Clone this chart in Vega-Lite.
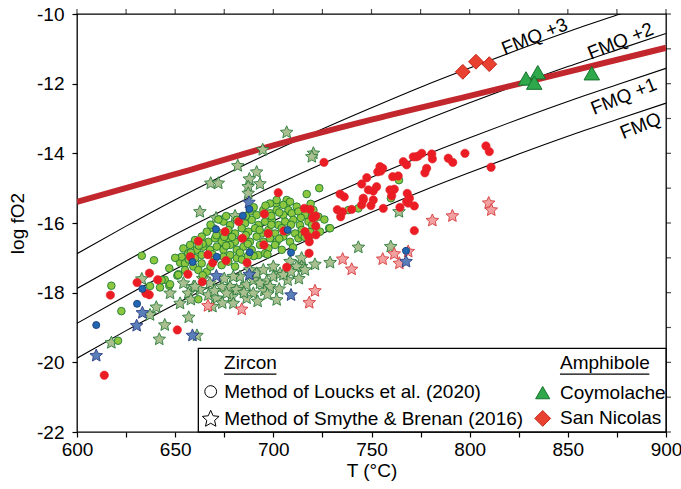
{
"$schema": "https://vega.github.io/schema/vega-lite/v6.json",
"width": 589, "height": 418,
"autosize": {"type": "none"},
"padding": {"left": 77, "top": 14, "right": 15, "bottom": 57},
"background": "white",
"config": {
 "view": {"stroke": "black", "strokeWidth": 1.3},
 "font": "Liberation Sans",
 "axis": {"domain": false, "grid": false, "ticks": true, "tickColor": "black", "tickSize": 5, "tickWidth": 1.2, "labelFont": "Liberation Sans", "labelFontSize": 19, "labelColor": "black", "titleFont": "Liberation Sans", "titleFontSize": 19, "titleFontWeight": "normal", "titleColor": "black"}
},
"datasets": {
 "fmq": [
  {"T":600,"fO2":-19.88,"b":"FMQ"},{"T":625,"fO2":-19.09,"b":"FMQ"},{"T":650,"fO2":-18.33,"b":"FMQ"},{"T":675,"fO2":-17.62,"b":"FMQ"},{"T":700,"fO2":-16.94,"b":"FMQ"},{"T":725,"fO2":-16.30,"b":"FMQ"},{"T":750,"fO2":-15.69,"b":"FMQ"},{"T":775,"fO2":-15.10,"b":"FMQ"},{"T":800,"fO2":-14.55,"b":"FMQ"},{"T":825,"fO2":-14.02,"b":"FMQ"},{"T":850,"fO2":-13.51,"b":"FMQ"},{"T":875,"fO2":-13.03,"b":"FMQ"},{"T":900,"fO2":-12.56,"b":"FMQ"},
  {"T":600,"fO2":-18.88,"b":"FMQ +1"},{"T":625,"fO2":-18.09,"b":"FMQ +1"},{"T":650,"fO2":-17.33,"b":"FMQ +1"},{"T":675,"fO2":-16.62,"b":"FMQ +1"},{"T":700,"fO2":-15.94,"b":"FMQ +1"},{"T":725,"fO2":-15.30,"b":"FMQ +1"},{"T":750,"fO2":-14.69,"b":"FMQ +1"},{"T":775,"fO2":-14.10,"b":"FMQ +1"},{"T":800,"fO2":-13.55,"b":"FMQ +1"},{"T":825,"fO2":-13.02,"b":"FMQ +1"},{"T":850,"fO2":-12.51,"b":"FMQ +1"},{"T":875,"fO2":-12.03,"b":"FMQ +1"},{"T":900,"fO2":-11.56,"b":"FMQ +1"},
  {"T":600,"fO2":-17.88,"b":"FMQ +2"},{"T":625,"fO2":-17.09,"b":"FMQ +2"},{"T":650,"fO2":-16.33,"b":"FMQ +2"},{"T":675,"fO2":-15.62,"b":"FMQ +2"},{"T":700,"fO2":-14.94,"b":"FMQ +2"},{"T":725,"fO2":-14.30,"b":"FMQ +2"},{"T":750,"fO2":-13.69,"b":"FMQ +2"},{"T":775,"fO2":-13.10,"b":"FMQ +2"},{"T":800,"fO2":-12.55,"b":"FMQ +2"},{"T":825,"fO2":-12.02,"b":"FMQ +2"},{"T":850,"fO2":-11.51,"b":"FMQ +2"},{"T":875,"fO2":-11.03,"b":"FMQ +2"},{"T":900,"fO2":-10.56,"b":"FMQ +2"},
  {"T":600,"fO2":-16.88,"b":"FMQ +3"},{"T":625,"fO2":-16.09,"b":"FMQ +3"},{"T":650,"fO2":-15.33,"b":"FMQ +3"},{"T":675,"fO2":-14.62,"b":"FMQ +3"},{"T":700,"fO2":-13.94,"b":"FMQ +3"},{"T":725,"fO2":-13.30,"b":"FMQ +3"},{"T":750,"fO2":-12.69,"b":"FMQ +3"},{"T":775,"fO2":-12.10,"b":"FMQ +3"},{"T":800,"fO2":-11.55,"b":"FMQ +3"},{"T":825,"fO2":-11.02,"b":"FMQ +3"},{"T":850,"fO2":-10.51,"b":"FMQ +3"},{"T":875,"fO2":-10.03,"b":"FMQ +3"},{"T":900,"fO2":-9.56,"b":"FMQ +3"}
 ],
 "trend": [
  {"T":600,"fO2":-15.39},{"T":650,"fO2":-14.60},{"T":700,"fO2":-13.77},{"T":750,"fO2":-13.03},{"T":800,"fO2":-12.35},{"T":850,"fO2":-11.66},{"T":900,"fO2":-10.97}
 ],
 "xticks": [{"v":600},{"v":625},{"v":650},{"v":675},{"v":700},{"v":725},{"v":750},{"v":775},{"v":800},{"v":825},{"v":850},{"v":875},{"v":900}],
 "yticks": [{"v":-22},{"v":-21},{"v":-20},{"v":-19},{"v":-18},{"v":-17},{"v":-16},{"v":-15},{"v":-14},{"v":-13},{"v":-12},{"v":-11},{"v":-10}],
 "pts": [
  {"T":706.8,"fO2":-13.40,"s":"Sg"},{"T":694.6,"fO2":-13.90,"s":"Sg"},{"T":720.4,"fO2":-14.00,"s":"Sg"},{"T":719.6,"fO2":-14.10,"s":"Sg"},{"T":681.9,"fO2":-14.36,"s":"Sg"},{"T":668.1,"fO2":-14.86,"s":"Sg"},{"T":672.0,"fO2":-14.86,"s":"Sg"},{"T":691.5,"fO2":-14.54,"s":"Sg"},{"T":687.8,"fO2":-14.74,"s":"Sg"},{"T":693.2,"fO2":-14.88,"s":"Sg"},{"T":687.2,"fO2":-14.96,"s":"Sg"},{"T":687.2,"fO2":-15.15,"s":"Sg"},{"T":662.6,"fO2":-15.68,"s":"Sg"},{"T":670.8,"fO2":-15.86,"s":"Sg"},{"T":680.5,"fO2":-15.80,"s":"Sg"},{"T":764.0,"fO2":-15.68,"s":"Sg"},{"T":743.3,"fO2":-16.70,"s":"Sg"},{"T":759.8,"fO2":-16.68,"s":"Sg"},{"T":728.9,"fO2":-17.14,"s":"Sg"},{"T":721.2,"fO2":-17.19,"s":"Sg"},{"T":714.4,"fO2":-17.01,"s":"Sg"},{"T":714.4,"fO2":-17.25,"s":"Sg"},{"T":640.4,"fO2":-18.42,"s":"Sg"},{"T":637.2,"fO2":-18.64,"s":"Sg"},{"T":644.7,"fO2":-18.93,"s":"Sg"},{"T":641.9,"fO2":-19.34,"s":"Sg"},{"T":617.5,"fO2":-19.44,"s":"Sg"},{"T":633.0,"fO2":-17.61,"s":"Sg"},{"T":656.9,"fO2":-18.71,"s":"Sg"},{"T":661.1,"fO2":-19.23,"s":"Sg"},{"T":695.4,"fO2":-17.94,"s":"Sg"},{"T":701.7,"fO2":-18.21,"s":"Sg"},{"T":707.3,"fO2":-17.64,"s":"Sg"},{"T":678.8,"fO2":-18.12,"s":"Sg"},{"T":683.9,"fO2":-17.87,"s":"Sg"},{"T":677.9,"fO2":-17.83,"s":"Sg"},{"T":686.4,"fO2":-17.78,"s":"Sg"},{"T":689.8,"fO2":-17.64,"s":"Sg"},{"T":696.6,"fO2":-17.68,"s":"Sg"},{"T":700.0,"fO2":-17.54,"s":"Sg"},{"T":703.4,"fO2":-17.45,"s":"Sg"},{"T":666.9,"fO2":-18.07,"s":"Sg"},{"T":671.1,"fO2":-18.16,"s":"Sg"},{"T":662.6,"fO2":-17.92,"s":"Sg"},{"T":659.3,"fO2":-17.83,"s":"Sg"},{"T":656.7,"fO2":-18.02,"s":"Sg"},{"T":673.7,"fO2":-17.83,"s":"Sg"},{"T":683.0,"fO2":-17.54,"s":"Sg"},{"T":691.5,"fO2":-17.45,"s":"Sg"},{"T":694.9,"fO2":-17.35,"s":"Sg"},{"T":700.0,"fO2":-17.25,"s":"Sg"},{"T":705.1,"fO2":-17.49,"s":"Sg"},{"T":708.5,"fO2":-17.11,"s":"Sg"},{"T":679.6,"fO2":-17.54,"s":"Sg"},{"T":676.2,"fO2":-18.02,"s":"Sg"},{"T":681.3,"fO2":-17.92,"s":"Sg"},{"T":693.2,"fO2":-17.73,"s":"Sg"},{"T":698.3,"fO2":-17.83,"s":"Sg"},{"T":689.8,"fO2":-18.02,"s":"Sg"},{"T":711.9,"fO2":-17.25,"s":"Sg"},{"T":716.1,"fO2":-17.35,"s":"Sg"},{"T":667.7,"fO2":-17.73,"s":"Sg"},{"T":679.6,"fO2":-18.31,"s":"Sg"},{"T":686.4,"fO2":-18.16,"s":"Sg"},{"T":654.2,"fO2":-17.73,"s":"Sg"},{"T":647.4,"fO2":-18.02,"s":"Sg"},{"T":652.5,"fO2":-18.31,"s":"Sg"},{"T":660.1,"fO2":-17.83,"s":"Sg"},
  {"T":664.0,"fO2":-17.60,"s":"Sg"},{"T":670.0,"fO2":-17.95,"s":"Sg"},{"T":674.0,"fO2":-18.30,"s":"Sg"},{"T":685.0,"fO2":-18.00,"s":"Sg"},{"T":692.0,"fO2":-18.25,"s":"Sg"},{"T":697.0,"fO2":-18.05,"s":"Sg"},{"T":703.0,"fO2":-17.90,"s":"Sg"},{"T":709.0,"fO2":-17.40,"s":"Sg"},{"T":713.0,"fO2":-17.60,"s":"Sg"},{"T":688.0,"fO2":-17.35,"s":"Sg"},{"T":675.0,"fO2":-17.60,"s":"Sg"},{"T":669.0,"fO2":-18.40,"s":"Sg"},{"T":658.0,"fO2":-18.20,"s":"Sg"},
  {"T":666.7,"fO2":-18.38,"s":"Sr"},{"T":683.9,"fO2":-18.48,"s":"Sr"},{"T":718.3,"fO2":-18.29,"s":"Sr"},{"T":721.2,"fO2":-17.95,"s":"Sr"},{"T":735.3,"fO2":-17.04,"s":"Sr"},{"T":739.9,"fO2":-17.33,"s":"Sr"},{"T":755.7,"fO2":-17.04,"s":"Sr"},{"T":761.6,"fO2":-16.89,"s":"Sr"},{"T":764.2,"fO2":-17.16,"s":"Sr"},{"T":768.7,"fO2":-16.82,"s":"Sr"},{"T":781.0,"fO2":-15.93,"s":"Sr"},{"T":791.2,"fO2":-15.80,"s":"Sr"},{"T":809.7,"fO2":-15.43,"s":"Sr"},{"T":811.0,"fO2":-15.63,"s":"Sr"},
  {"T":633.3,"fO2":-18.58,"s":"Sb"},{"T":630.4,"fO2":-18.95,"s":"Sb"},{"T":609.8,"fO2":-19.81,"s":"Sb"},{"T":658.8,"fO2":-19.23,"s":"Sb"},{"T":671.0,"fO2":-17.52,"s":"Sb"},{"T":687.8,"fO2":-17.48,"s":"Sb"},{"T":709.0,"fO2":-18.07,"s":"Sb"},{"T":687.6,"fO2":-15.41,"s":"Sb"},{"T":767.6,"fO2":-17.11,"s":"Sb"},
  {"T":633.0,"fO2":-16.94,"s":"Lg"},{"T":639.2,"fO2":-17.07,"s":"Lg"},{"T":652.5,"fO2":-17.14,"s":"Lg"},{"T":644.7,"fO2":-17.63,"s":"Lg"},{"T":651.1,"fO2":-17.51,"s":"Lg"},{"T":637.2,"fO2":-17.81,"s":"Lg"},{"T":642.3,"fO2":-17.85,"s":"Lg"},{"T":647.0,"fO2":-17.80,"s":"Lg"},{"T":617.5,"fO2":-17.80,"s":"Lg"},{"T":622.6,"fO2":-18.53,"s":"Lg"},{"T":620.9,"fO2":-19.38,"s":"Lg"},{"T":651.6,"fO2":-17.47,"s":"Lg"},{"T":661.8,"fO2":-18.19,"s":"Lg"},{"T":723.4,"fO2":-15.00,"s":"Lg"},{"T":717.0,"fO2":-15.17,"s":"Lg"},{"T":701.4,"fO2":-15.43,"s":"Lg"},{"T":706.8,"fO2":-15.34,"s":"Lg"},{"T":706.5,"fO2":-15.48,"s":"Lg"},{"T":728.4,"fO2":-16.15,"s":"Lg"},{"T":764.0,"fO2":-14.77,"s":"Lg"},{"T":759.9,"fO2":-15.29,"s":"Lg"},{"T":743.3,"fO2":-15.58,"s":"Lg"},{"T":738.2,"fO2":-15.63,"s":"Lg"},
  {"T":698.3,"fO2":-15.44,"s":"Lg"},{"T":701.7,"fO2":-15.34,"s":"Lg"},{"T":705.1,"fO2":-15.48,"s":"Lg"},{"T":708.5,"fO2":-15.39,"s":"Lg"},{"T":711.9,"fO2":-15.53,"s":"Lg"},{"T":707.7,"fO2":-15.63,"s":"Lg"},
  {"T":688.1,"fO2":-15.67,"s":"Lg"},{"T":691.5,"fO2":-15.77,"s":"Lg"},{"T":694.9,"fO2":-15.63,"s":"Lg"},{"T":698.3,"fO2":-15.72,"s":"Lg"},{"T":701.7,"fO2":-15.63,"s":"Lg"},{"T":705.1,"fO2":-15.77,"s":"Lg"},{"T":709.4,"fO2":-15.72,"s":"Lg"},{"T":712.8,"fO2":-15.67,"s":"Lg"},{"T":717.0,"fO2":-15.72,"s":"Lg"},{"T":720.4,"fO2":-15.63,"s":"Lg"},{"T":723.0,"fO2":-15.82,"s":"Lg"},
  {"T":674.6,"fO2":-15.96,"s":"Lg"},{"T":678.0,"fO2":-16.06,"s":"Lg"},{"T":681.4,"fO2":-15.91,"s":"Lg"},{"T":685.6,"fO2":-16.01,"s":"Lg"},{"T":689.0,"fO2":-15.91,"s":"Lg"},{"T":692.4,"fO2":-16.06,"s":"Lg"},{"T":695.8,"fO2":-15.96,"s":"Lg"},{"T":699.2,"fO2":-15.91,"s":"Lg"},{"T":702.6,"fO2":-16.06,"s":"Lg"},{"T":706.0,"fO2":-15.96,"s":"Lg"},{"T":710.2,"fO2":-15.91,"s":"Lg"},{"T":713.6,"fO2":-16.06,"s":"Lg"},{"T":717.9,"fO2":-15.96,"s":"Lg"},{"T":721.3,"fO2":-16.06,"s":"Lg"},
  {"T":666.1,"fO2":-16.25,"s":"Lg"},{"T":669.5,"fO2":-16.15,"s":"Lg"},{"T":672.9,"fO2":-16.30,"s":"Lg"},{"T":677.1,"fO2":-16.20,"s":"Lg"},{"T":680.5,"fO2":-16.30,"s":"Lg"},{"T":683.9,"fO2":-16.15,"s":"Lg"},{"T":687.3,"fO2":-16.25,"s":"Lg"},{"T":690.7,"fO2":-16.15,"s":"Lg"},{"T":694.1,"fO2":-16.30,"s":"Lg"},{"T":697.5,"fO2":-16.20,"s":"Lg"},{"T":700.9,"fO2":-16.30,"s":"Lg"},{"T":704.3,"fO2":-16.15,"s":"Lg"},{"T":711.1,"fO2":-16.30,"s":"Lg"},{"T":714.5,"fO2":-16.20,"s":"Lg"},{"T":718.7,"fO2":-16.25,"s":"Lg"},{"T":728.9,"fO2":-16.15,"s":"Lg"},
  {"T":660.1,"fO2":-16.49,"s":"Lg"},{"T":663.5,"fO2":-16.39,"s":"Lg"},{"T":666.9,"fO2":-16.54,"s":"Lg"},{"T":670.3,"fO2":-16.44,"s":"Lg"},{"T":673.7,"fO2":-16.54,"s":"Lg"},{"T":677.1,"fO2":-16.44,"s":"Lg"},{"T":680.5,"fO2":-16.54,"s":"Lg"},{"T":684.8,"fO2":-16.44,"s":"Lg"},{"T":688.1,"fO2":-16.54,"s":"Lg"},{"T":691.5,"fO2":-16.39,"s":"Lg"},{"T":694.9,"fO2":-16.54,"s":"Lg"},{"T":698.3,"fO2":-16.44,"s":"Lg"},{"T":701.7,"fO2":-16.54,"s":"Lg"},{"T":705.1,"fO2":-16.39,"s":"Lg"},{"T":708.5,"fO2":-16.54,"s":"Lg"},{"T":712.8,"fO2":-16.44,"s":"Lg"},
  {"T":654.2,"fO2":-16.73,"s":"Lg"},{"T":657.6,"fO2":-16.63,"s":"Lg"},{"T":661.0,"fO2":-16.77,"s":"Lg"},{"T":664.4,"fO2":-16.68,"s":"Lg"},{"T":667.8,"fO2":-16.77,"s":"Lg"},{"T":671.2,"fO2":-16.68,"s":"Lg"},{"T":674.6,"fO2":-16.77,"s":"Lg"},{"T":678.0,"fO2":-16.63,"s":"Lg"},{"T":681.4,"fO2":-16.77,"s":"Lg"},{"T":684.8,"fO2":-16.68,"s":"Lg"},{"T":689.0,"fO2":-16.77,"s":"Lg"},{"T":693.2,"fO2":-16.63,"s":"Lg"},{"T":697.5,"fO2":-16.73,"s":"Lg"},{"T":700.9,"fO2":-16.63,"s":"Lg"},{"T":704.3,"fO2":-16.77,"s":"Lg"},
  {"T":653.3,"fO2":-16.97,"s":"Lg"},{"T":656.7,"fO2":-16.87,"s":"Lg"},{"T":660.1,"fO2":-17.01,"s":"Lg"},{"T":663.5,"fO2":-16.92,"s":"Lg"},{"T":674.6,"fO2":-16.97,"s":"Lg"},{"T":678.0,"fO2":-16.92,"s":"Lg"},{"T":681.4,"fO2":-17.01,"s":"Lg"},{"T":692.4,"fO2":-16.92,"s":"Lg"},{"T":695.8,"fO2":-16.87,"s":"Lg"},
  {"T":655.0,"fO2":-17.16,"s":"Lg"},{"T":659.3,"fO2":-17.25,"s":"Lg"},{"T":663.5,"fO2":-17.16,"s":"Lg"},{"T":673.7,"fO2":-17.21,"s":"Lg"},{"T":677.1,"fO2":-17.11,"s":"Lg"},{"T":680.5,"fO2":-17.25,"s":"Lg"},
  {"T":651.6,"fO2":-17.49,"s":"Lg"},{"T":661.8,"fO2":-17.35,"s":"Lg"},{"T":666.1,"fO2":-17.40,"s":"Lg"},{"T":647.4,"fO2":-17.76,"s":"Lg"},{"T":643.1,"fO2":-17.64,"s":"Lg"},
  {"T":716.1,"fO2":-15.77,"s":"Lg"},{"T":719.7,"fO2":-16.06,"s":"Lg"},{"T":714.6,"fO2":-16.34,"s":"Lg"},{"T":723.8,"fO2":-16.25,"s":"Lg"},
  {"T":668.0,"fO2":-16.05,"s":"Lg"},{"T":672.0,"fO2":-15.90,"s":"Lg"},{"T":676.0,"fO2":-15.80,"s":"Lg"},{"T":686.0,"fO2":-15.80,"s":"Lg"},{"T":690.0,"fO2":-15.55,"s":"Lg"},{"T":696.0,"fO2":-15.50,"s":"Lg"},{"T":703.0,"fO2":-15.70,"s":"Lg"},{"T":714.0,"fO2":-15.85,"s":"Lg"},{"T":719.0,"fO2":-15.45,"s":"Lg"},{"T":726.0,"fO2":-15.90,"s":"Lg"},{"T":664.0,"fO2":-16.60,"s":"Lg"},{"T":671.0,"fO2":-16.35,"s":"Lg"},{"T":675.0,"fO2":-16.40,"s":"Lg"},{"T":679.0,"fO2":-16.40,"s":"Lg"},{"T":686.0,"fO2":-16.35,"s":"Lg"},{"T":693.0,"fO2":-16.20,"s":"Lg"},{"T":699.0,"fO2":-16.05,"s":"Lg"},{"T":707.0,"fO2":-16.25,"s":"Lg"},{"T":709.0,"fO2":-16.05,"s":"Lg"},{"T":716.0,"fO2":-16.40,"s":"Lg"},{"T":658.0,"fO2":-16.85,"s":"Lg"},{"T":662.0,"fO2":-16.65,"s":"Lg"},{"T":669.0,"fO2":-16.90,"s":"Lg"},{"T":676.0,"fO2":-16.65,"s":"Lg"},{"T":683.0,"fO2":-16.85,"s":"Lg"},{"T":687.0,"fO2":-16.60,"s":"Lg"},{"T":690.0,"fO2":-16.95,"s":"Lg"},{"T":697.0,"fO2":-16.90,"s":"Lg"},{"T":703.0,"fO2":-16.45,"s":"Lg"},{"T":710.0,"fO2":-16.70,"s":"Lg"},{"T":650.0,"fO2":-17.00,"s":"Lg"},{"T":657.0,"fO2":-17.05,"s":"Lg"},{"T":668.0,"fO2":-17.25,"s":"Lg"},{"T":670.0,"fO2":-17.05,"s":"Lg"},{"T":684.0,"fO2":-17.05,"s":"Lg"},{"T":687.0,"fO2":-16.95,"s":"Lg"},{"T":664.0,"fO2":-17.50,"s":"Lg"},{"T":647.0,"fO2":-17.30,"s":"Lg"},{"T":655.0,"fO2":-17.35,"s":"Lg"},{"T":699.0,"fO2":-15.80,"s":"Lg"},
  {"T":636.9,"fO2":-17.44,"s":"Lr"},{"T":630.6,"fO2":-17.71,"s":"Lr"},{"T":641.1,"fO2":-17.63,"s":"Lr"},{"T":635.1,"fO2":-18.02,"s":"Lr"},{"T":636.8,"fO2":-18.06,"s":"Lr"},{"T":617.0,"fO2":-18.07,"s":"Lr"},{"T":651.1,"fO2":-19.07,"s":"Lr"},{"T":613.9,"fO2":-20.37,"s":"Lr"},
  {"T":666.7,"fO2":-16.91,"s":"Lr"},{"T":657.7,"fO2":-16.97,"s":"Lr"},{"T":669.1,"fO2":-17.14,"s":"Lr"},{"T":675.9,"fO2":-17.08,"s":"Lr"},{"T":686.6,"fO2":-17.14,"s":"Lr"},{"T":695.2,"fO2":-16.63,"s":"Lr"},{"T":661.8,"fO2":-16.52,"s":"Lr"},{"T":718.3,"fO2":-16.54,"s":"Lr"},{"T":718.2,"fO2":-16.87,"s":"Lr"},{"T":706.8,"fO2":-17.27,"s":"Lr"},{"T":656.5,"fO2":-17.47,"s":"Lr"},{"T":663.8,"fO2":-17.69,"s":"Lr"},
  {"T":702.5,"fO2":-15.13,"s":"Lr"},{"T":715.8,"fO2":-15.58,"s":"Lr"},{"T":718.7,"fO2":-15.61,"s":"Lr"},{"T":720.4,"fO2":-15.82,"s":"Lr"},{"T":721.6,"fO2":-16.09,"s":"Lr"},{"T":716.1,"fO2":-16.25,"s":"Lr"},{"T":717.8,"fO2":-16.39,"s":"Lr"},{"T":675.4,"fO2":-16.25,"s":"Lr"},{"T":682.4,"fO2":-15.96,"s":"Lr"},{"T":695.4,"fO2":-15.74,"s":"Lr"},{"T":684.2,"fO2":-16.44,"s":"Lr"},{"T":697.4,"fO2":-16.30,"s":"Lr"},{"T":705.4,"fO2":-16.23,"s":"Lr"},{"T":732.6,"fO2":-15.62,"s":"Lr"},
  {"T":725.8,"fO2":-14.26,"s":"Lr"},{"T":754.3,"fO2":-14.38,"s":"Lr"},{"T":754.7,"fO2":-14.51,"s":"Lr"},{"T":753.2,"fO2":-14.53,"s":"Lr"},{"T":766.2,"fO2":-14.24,"s":"Lr"},{"T":767.9,"fO2":-14.33,"s":"Lr"},{"T":771.3,"fO2":-14.10,"s":"Lr"},{"T":773.8,"fO2":-14.08,"s":"Lr"},{"T":775.6,"fO2":-14.00,"s":"Lr"},{"T":780.7,"fO2":-14.02,"s":"Lr"},{"T":781.0,"fO2":-14.16,"s":"Lr"},{"T":789.1,"fO2":-14.14,"s":"Lr"},{"T":791.4,"fO2":-14.26,"s":"Lr"},{"T":797.6,"fO2":-14.00,"s":"Lr"},{"T":808.3,"fO2":-13.79,"s":"Lr"},{"T":810.0,"fO2":-13.95,"s":"Lr"},{"T":810.9,"fO2":-14.40,"s":"Lr"},{"T":778.1,"fO2":-14.43,"s":"Lr"},{"T":777.2,"fO2":-14.56,"s":"Lr"},{"T":760.8,"fO2":-14.67,"s":"Lr"},{"T":763.6,"fO2":-14.65,"s":"Lr"},{"T":747.6,"fO2":-14.70,"s":"Lr"},{"T":745.0,"fO2":-14.88,"s":"Lr"},{"T":752.6,"fO2":-14.96,"s":"Lr"},{"T":748.4,"fO2":-15.05,"s":"Lr"},{"T":750.9,"fO2":-15.08,"s":"Lr"},{"T":759.4,"fO2":-15.05,"s":"Lr"},{"T":761.6,"fO2":-15.03,"s":"Lr"},{"T":734.0,"fO2":-15.17,"s":"Lr"},{"T":736.1,"fO2":-15.25,"s":"Lr"},{"T":768.2,"fO2":-15.15,"s":"Lr"},{"T":769.3,"fO2":-15.29,"s":"Lr"},{"T":745.8,"fO2":-15.29,"s":"Lr"},{"T":745.0,"fO2":-15.48,"s":"Lr"},{"T":750.9,"fO2":-15.34,"s":"Lr"},{"T":749.7,"fO2":-15.50,"s":"Lr"},{"T":760.3,"fO2":-15.22,"s":"Lr"},{"T":768.7,"fO2":-15.43,"s":"Lr"},{"T":771.8,"fO2":-15.51,"s":"Lr"},{"T":756.0,"fO2":-15.58,"s":"Lr"},{"T":764.5,"fO2":-15.55,"s":"Lr"},{"T":735.3,"fO2":-15.68,"s":"Lr"},{"T":739.9,"fO2":-15.61,"s":"Lr"},{"T":734.3,"fO2":-15.82,"s":"Lr"},{"T":771.8,"fO2":-16.22,"s":"Lr"},{"T":721.6,"fO2":-15.80,"s":"Lr"},{"T":720.1,"fO2":-15.86,"s":"Lr"},{"T":721.7,"fO2":-16.34,"s":"Lr"},{"T":772.7,"fO2":-14.10,"s":"Lr"},{"T":755.7,"fO2":-14.43,"s":"Lr"},{"T":767.9,"fO2":-15.39,"s":"Lr"},{"T":745.8,"fO2":-15.34,"s":"Lr"},
  {"T":633.3,"fO2":-17.89,"s":"Lb"},{"T":630.6,"fO2":-18.32,"s":"Lb"},{"T":609.8,"fO2":-18.93,"s":"Lb"},{"T":658.9,"fO2":-17.12,"s":"Lb"},{"T":671.2,"fO2":-16.97,"s":"Lb"},{"T":688.0,"fO2":-16.84,"s":"Lb"},{"T":709.0,"fO2":-16.85,"s":"Lb"},{"T":687.8,"fO2":-15.60,"s":"Lb"},{"T":684.5,"fO2":-15.79,"s":"Lb"},{"T":670.8,"fO2":-16.18,"s":"Lb"},{"T":707.3,"fO2":-16.20,"s":"Lb"},{"T":767.6,"fO2":-16.80,"s":"Lb"},
  {"T":828.7,"fO2":-11.85,"s":"Coymolache"},{"T":834.7,"fO2":-11.67,"s":"Coymolache"},{"T":832.9,"fO2":-11.97,"s":"Coymolache"},{"T":862.2,"fO2":-11.70,"s":"Coymolache"},
  {"T":796.5,"fO2":-11.66,"s":"San Nicolas"},{"T":803.2,"fO2":-11.37,"s":"San Nicolas"},{"T":810.0,"fO2":-11.44,"s":"San Nicolas"}
 ]
},
"layer": [
 {"data": {"name": "fmq"},
  "mark": {"type": "line", "color": "black", "strokeWidth": 1.1, "clip": true, "interpolate": "monotone"},
  "encoding": {
   "x": {"field": "T", "type": "quantitative", "scale": {"domain": [600, 900], "nice": false, "zero": false},
         "axis": {"orient": "bottom", "values": [600,625,650,675,700,725,750,775,800,825,850,875,900], "labelExpr": "datum.value % 50 === 0 ? datum.label : ''", "labelPadding": 3, "title": "T (°C)", "titlePadding": 2, "labelFlush": false}},
   "y": {"field": "fO2", "type": "quantitative", "scale": {"domain": [-22, -10], "nice": false, "zero": false},
         "axis": {"orient": "left", "values": [-22,-21,-20,-19,-18,-17,-16,-15,-14,-13,-12,-11,-10], "labelExpr": "datum.value % 2 === 0 ? '-' + (-datum.value) : ''", "labelPadding": 8, "title": "log fO2", "titlePadding": 9, "labelFlush": false}},
   "detail": {"field": "b", "type": "nominal"}
  }},
 {"data": {"name": "xticks"},
  "mark": {"type": "tick", "orient": "vertical", "color": "black", "size": 5, "thickness": 1.2, "yOffset": -2.5, "clip": false},
  "encoding": {"x": {"field": "v", "type": "quantitative"}, "y": {"datum": -10, "type": "quantitative"}}},
 {"data": {"name": "yticks"},
  "mark": {"type": "tick", "orient": "horizontal", "color": "black", "size": 5, "thickness": 1.2, "xOffset": 2.5, "clip": false},
  "encoding": {"y": {"field": "v", "type": "quantitative"}, "x": {"datum": 900, "type": "quantitative"}}},
 {"data": {"name": "trend"},
  "mark": {"type": "line", "color": "#c1272d", "strokeWidth": 6, "clip": true, "interpolate": "monotone"},
  "encoding": {"x": {"field": "T", "type": "quantitative"}, "y": {"field": "fO2", "type": "quantitative"}}},
 {"data": {"name": "pts"}, "transform": [{"filter": "datum.s === 'Sg'"}],
  "mark": {"type": "point", "shape": "M0,-1L0.276,-0.38L0.951,-0.309L0.447,0.145L0.588,0.809L0,0.47L-0.588,0.809L-0.447,0.145L-0.951,-0.309L-0.276,-0.38Z", "filled": true, "fill": "#a9bf90", "stroke": "#2a7a3a", "strokeWidth": 0.9, "size": 175, "opacity": 1},
  "encoding": {"x": {"field": "T", "type": "quantitative"}, "y": {"field": "fO2", "type": "quantitative"}}},
 {"data": {"name": "pts"}, "transform": [{"filter": "datum.s === 'Sr'"}],
  "mark": {"type": "point", "shape": "M0,-1L0.276,-0.38L0.951,-0.309L0.447,0.145L0.588,0.809L0,0.47L-0.588,0.809L-0.447,0.145L-0.951,-0.309L-0.276,-0.38Z", "filled": true, "fill": "#f2a0a0", "stroke": "#d63a3c", "strokeWidth": 0.9, "size": 175, "opacity": 1},
  "encoding": {"x": {"field": "T", "type": "quantitative"}, "y": {"field": "fO2", "type": "quantitative"}}},
 {"data": {"name": "pts"}, "transform": [{"filter": "datum.s === 'Sb'"}],
  "mark": {"type": "point", "shape": "M0,-1L0.276,-0.38L0.951,-0.309L0.447,0.145L0.588,0.809L0,0.47L-0.588,0.809L-0.447,0.145L-0.951,-0.309L-0.276,-0.38Z", "filled": true, "fill": "#5a7fb8", "stroke": "#2b3c86", "strokeWidth": 0.9, "size": 175, "opacity": 1},
  "encoding": {"x": {"field": "T", "type": "quantitative"}, "y": {"field": "fO2", "type": "quantitative"}}},
 {"data": {"name": "pts"}, "transform": [{"filter": "datum.s === 'Lg'"}],
  "mark": {"type": "point", "shape": "circle", "filled": true, "fill": "#8dc63f", "stroke": "#1c7a35", "strokeWidth": 0.9, "size": 58, "opacity": 1},
  "encoding": {"x": {"field": "T", "type": "quantitative"}, "y": {"field": "fO2", "type": "quantitative"}}},
 {"data": {"name": "pts"}, "transform": [{"filter": "datum.s === 'Lr'"}],
  "mark": {"type": "point", "shape": "circle", "filled": true, "fill": "#ec1c24", "stroke": "#e0262c", "strokeWidth": 0.6, "size": 70, "opacity": 1},
  "encoding": {"x": {"field": "T", "type": "quantitative"}, "y": {"field": "fO2", "type": "quantitative"}}},
 {"data": {"name": "pts"}, "transform": [{"filter": "datum.s === 'Lb'"}],
  "mark": {"type": "point", "shape": "circle", "filled": true, "fill": "#2166b1", "stroke": "#1b3f7c", "strokeWidth": 0.9, "size": 50, "opacity": 1},
  "encoding": {"x": {"field": "T", "type": "quantitative"}, "y": {"field": "fO2", "type": "quantitative"}}},
 {"data": {"name": "pts"}, "transform": [{"filter": "datum.s === 'Coymolache'"}],
  "mark": {"type": "point", "shape": "triangle-up", "filled": true, "fill": "#2ea84a", "stroke": "#15722e", "strokeWidth": 1, "size": 240, "opacity": 1},
  "encoding": {"x": {"field": "T", "type": "quantitative"}, "y": {"field": "fO2", "type": "quantitative"}}},
 {"data": {"name": "pts"}, "transform": [{"filter": "datum.s === 'San Nicolas'"}],
  "mark": {"type": "point", "shape": "diamond", "filled": true, "fill": "#e8412f", "stroke": "#c4281c", "strokeWidth": 1, "size": 220, "opacity": 1},
  "encoding": {"x": {"field": "T", "type": "quantitative"}, "y": {"field": "fO2", "type": "quantitative"}}},
 {"data": {"values": [{}]}, "mark": {"type": "text", "text": "FMQ +3", "angle": -22, "fontSize": 19, "align": "center", "baseline": "middle", "color": "black"},
  "encoding": {"x": {"datum": 833.1, "type": "quantitative"}, "y": {"datum": -10.65, "type": "quantitative"}}},
 {"data": {"values": [{}]}, "mark": {"type": "text", "text": "FMQ +2", "angle": -22, "fontSize": 19, "align": "center", "baseline": "middle", "color": "black"},
  "encoding": {"x": {"datum": 876.8, "type": "quantitative"}, "y": {"datum": -10.78, "type": "quantitative"}}},
 {"data": {"values": [{}]}, "mark": {"type": "text", "text": "FMQ +1", "angle": -22, "fontSize": 19, "align": "center", "baseline": "middle", "color": "black"},
  "encoding": {"x": {"datum": 878.5, "type": "quantitative"}, "y": {"datum": -12.37, "type": "quantitative"}}},
 {"data": {"values": [{}]}, "mark": {"type": "text", "text": "FMQ", "angle": -22, "fontSize": 19, "align": "center", "baseline": "middle", "color": "black"},
  "encoding": {"x": {"datum": 887.1, "type": "quantitative"}, "y": {"datum": -13.21, "type": "quantitative"}}},
 {"data": {"values": [{}]}, "mark": {"type": "rect", "fill": "white", "stroke": "black", "strokeWidth": 1.3},
  "encoding": {"x": {"datum": 661.8, "type": "quantitative"}, "x2": {"datum": 900}, "y": {"datum": -22, "type": "quantitative"}, "y2": {"datum": -19.6}}},
 {"data": {"values": [{}]}, "mark": {"type": "text", "text": "Zircon", "fontSize": 19, "align": "left", "baseline": "alphabetic", "color": "black"},
  "encoding": {"x": {"datum": 674.9, "type": "quantitative"}, "y": {"datum": -20.2, "type": "quantitative"}}},
 {"data": {"values": [{}]}, "mark": {"type": "rule", "color": "black", "strokeWidth": 1.2},
  "encoding": {"x": {"datum": 674.9, "type": "quantitative"}, "x2": {"datum": 701.6}, "y": {"datum": -20.34, "type": "quantitative"}}},
 {"data": {"values": [{}]}, "mark": {"type": "text", "text": "Amphibole", "fontSize": 19, "align": "left", "baseline": "alphabetic", "color": "black"},
  "encoding": {"x": {"datum": 846.0, "type": "quantitative"}, "y": {"datum": -20.2, "type": "quantitative"}}},
 {"data": {"values": [{}]}, "mark": {"type": "rule", "color": "black", "strokeWidth": 1.2},
  "encoding": {"x": {"datum": 846.0, "type": "quantitative"}, "x2": {"datum": 891.5}, "y": {"datum": -20.34, "type": "quantitative"}}},
 {"data": {"values": [{}]}, "mark": {"type": "point", "shape": "circle", "filled": true, "fill": "white", "stroke": "black", "strokeWidth": 1, "size": 140, "opacity": 1},
  "encoding": {"x": {"datum": 668.1, "type": "quantitative"}, "y": {"datum": -20.84, "type": "quantitative"}}},
 {"data": {"values": [{}]}, "mark": {"type": "point", "shape": "M0,-1L0.276,-0.38L0.951,-0.309L0.447,0.145L0.588,0.809L0,0.47L-0.588,0.809L-0.447,0.145L-0.951,-0.309L-0.276,-0.38Z", "filled": true, "fill": "white", "stroke": "black", "strokeWidth": 1, "size": 310, "opacity": 1},
  "encoding": {"x": {"datum": 668.1, "type": "quantitative"}, "y": {"datum": -21.63, "type": "quantitative"}}},
 {"data": {"values": [{}]}, "mark": {"type": "text", "text": "Method of Loucks et al. (2020)", "fontSize": 19, "align": "left", "baseline": "middle", "color": "black"},
  "encoding": {"x": {"datum": 675.0, "type": "quantitative"}, "y": {"datum": -20.84, "type": "quantitative"}}},
 {"data": {"values": [{}]}, "mark": {"type": "text", "text": "Method of Smythe & Brenan (2016)", "fontSize": 19, "align": "left", "baseline": "middle", "color": "black"},
  "encoding": {"x": {"datum": 675.0, "type": "quantitative"}, "y": {"datum": -21.63, "type": "quantitative"}}},
 {"data": {"values": [{}]}, "mark": {"type": "point", "shape": "triangle-up", "filled": true, "fill": "#2ea84a", "stroke": "#15722e", "strokeWidth": 1, "size": 200, "opacity": 1},
  "encoding": {"x": {"datum": 837.2, "type": "quantitative"}, "y": {"datum": -20.87, "type": "quantitative"}}},
 {"data": {"values": [{}]}, "mark": {"type": "point", "shape": "diamond", "filled": true, "fill": "#e8412f", "stroke": "#c4281c", "strokeWidth": 1, "size": 250, "opacity": 1},
  "encoding": {"x": {"datum": 837.2, "type": "quantitative"}, "y": {"datum": -21.61, "type": "quantitative"}}},
 {"data": {"values": [{}]}, "mark": {"type": "text", "text": "Coymolache", "fontSize": 19, "align": "left", "baseline": "middle", "color": "black"},
  "encoding": {"x": {"datum": 846.0, "type": "quantitative"}, "y": {"datum": -20.87, "type": "quantitative"}}},
 {"data": {"values": [{}]}, "mark": {"type": "text", "text": "San Nicolas", "fontSize": 19, "align": "left", "baseline": "middle", "color": "black"},
  "encoding": {"x": {"datum": 846.0, "type": "quantitative"}, "y": {"datum": -21.61, "type": "quantitative"}}}
]
}
